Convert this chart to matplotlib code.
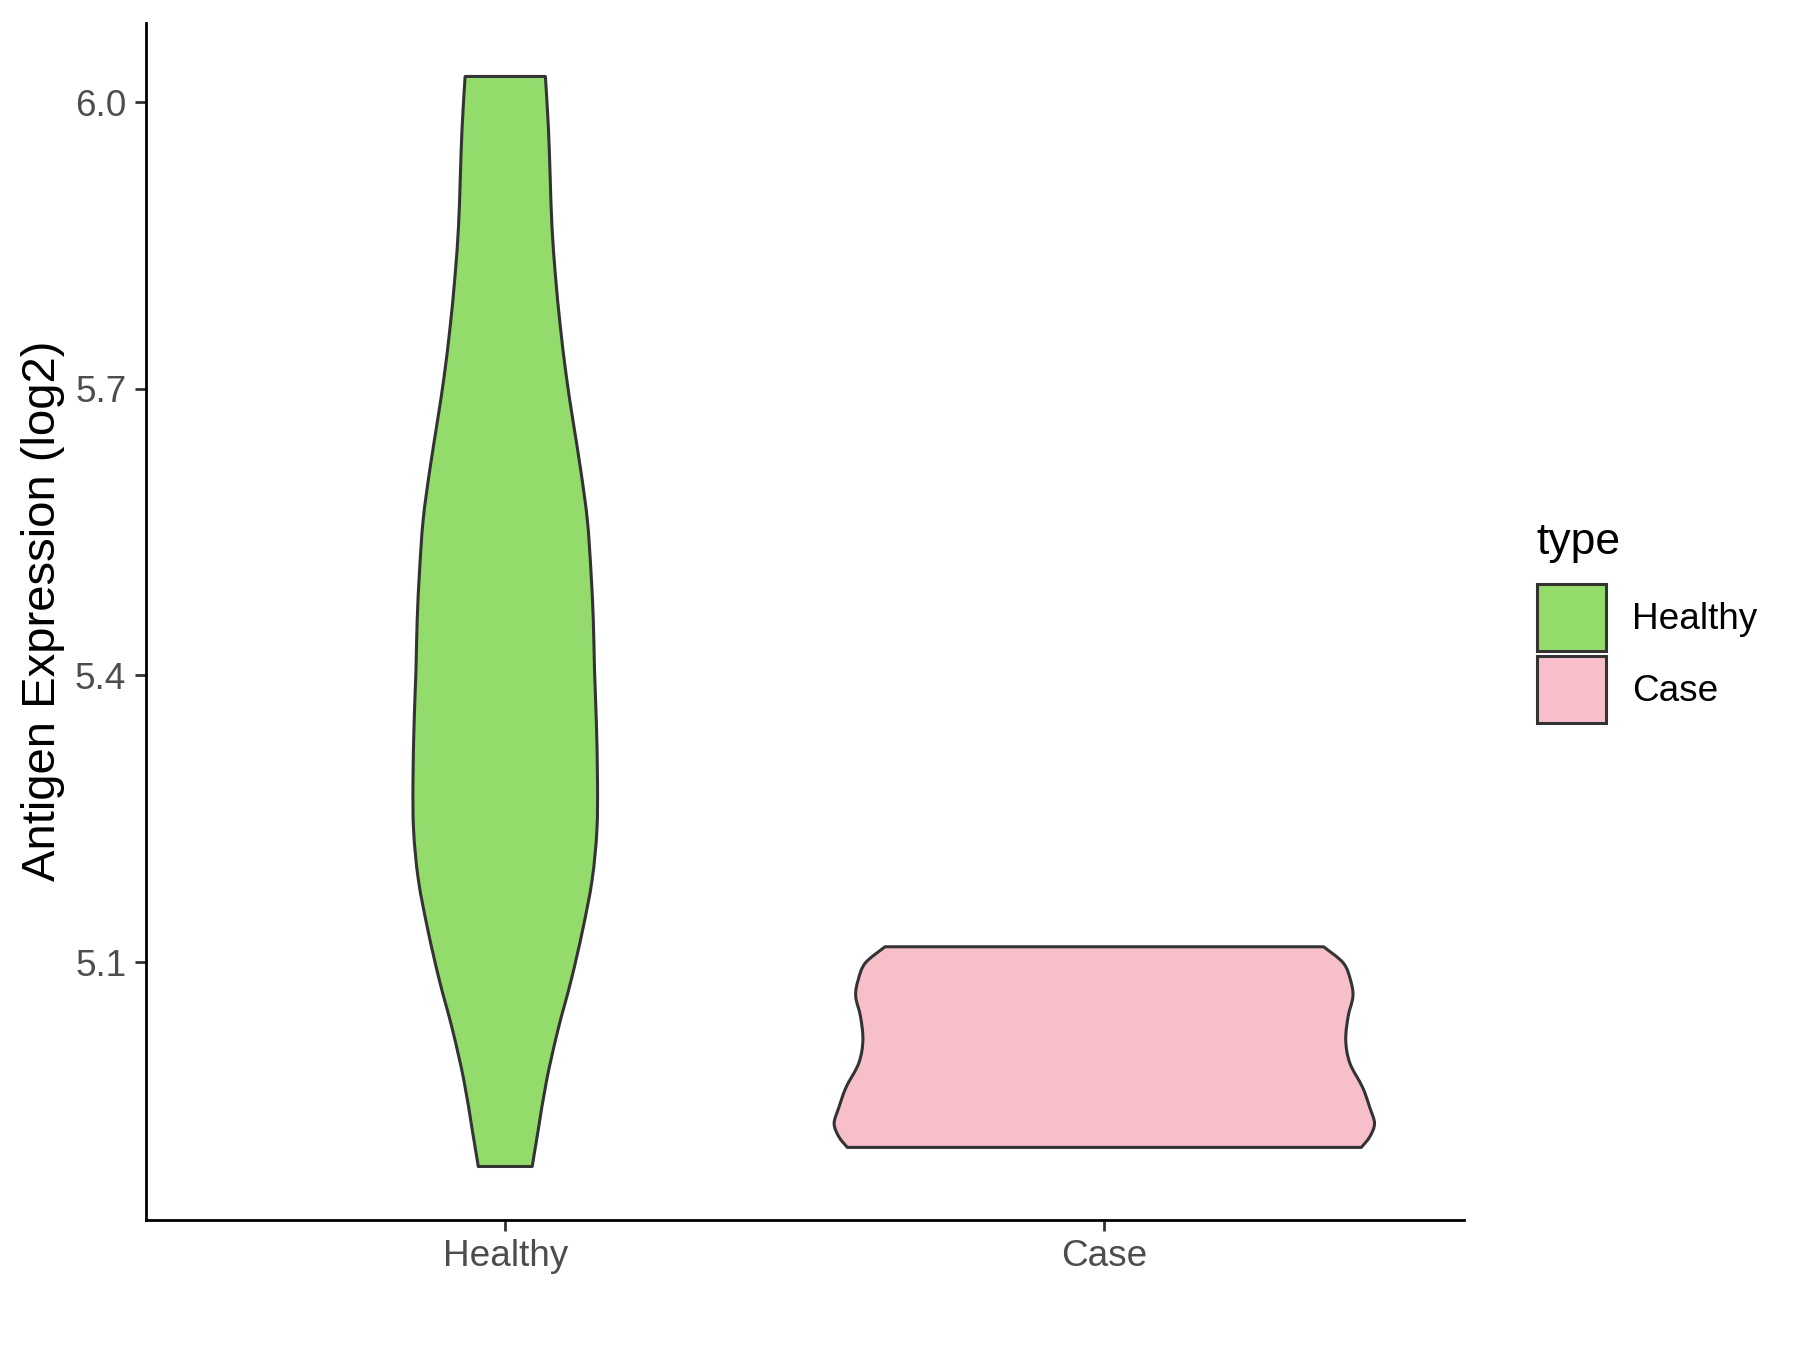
import numpy as np
import matplotlib
matplotlib.use("Agg")
import matplotlib.pyplot as plt
from matplotlib.patches import Patch, PathPatch
from matplotlib.path import Path

plt.rcParams['font.family'] = ['Liberation Sans', 'DejaVu Sans']

# categories and colours
groups = ["Healthy", "Case"]
fills = ["#93DB6A", "#F7BFCA"]

# violin outlines: value (log2) -> half width (x units)
# listed from the bottom of each violin to the top
healthy_y = [4.886, 4.924, 4.976, 5.029, 5.081, 5.133, 5.186, 5.238, 5.290,
             5.353, 5.406, 5.458, 5.510, 5.563, 5.615, 5.667, 5.713, 5.765,
             5.817, 5.870, 5.922, 5.974, 6.027]
healthy_w = [0.045, 0.055, 0.069, 0.088, 0.110, 0.129, 0.145, 0.153, 0.154,
             0.152, 0.149, 0.147, 0.143, 0.137, 0.126, 0.113, 0.102, 0.092,
             0.084, 0.078, 0.075, 0.072, 0.067]

case_y = [4.906, 4.917, 4.931, 4.948, 4.969, 4.994, 5.018, 5.043, 5.064,
          5.081, 5.099, 5.116]
case_w = [0.429, 0.443, 0.451, 0.443, 0.431, 0.410, 0.403, 0.407, 0.415,
          0.411, 0.399, 0.366]

profiles = [(healthy_y, healthy_w), (case_y, case_w)]
yticks = [5.1, 5.4, 5.7, 6.0]


def smooth_side(pts):
    # Catmull-Rom through the read points, as cubic bezier segments
    p = np.vstack([pts[0], pts, pts[-1]])
    verts, codes = [], []
    for i in range(1, len(p) - 2):
        c1 = p[i] + (p[i + 1] - p[i - 1]) / 6.0
        c2 = p[i + 1] - (p[i + 2] - p[i]) / 6.0
        verts += [c1, c2, p[i + 1]]
        codes += [Path.CURVE4] * 3
    return verts, codes


fig = plt.figure(figsize=(9, 6.75), dpi=200)
ax = fig.add_axes([0.081, 0.0963, 0.7322, 0.8867])

for i, (yy, ww) in enumerate(profiles):
    pos = i + 1
    yy = np.array(yy)
    ww = np.array(ww)
    left = np.column_stack([pos - ww, yy])            # bottom -> top
    right = np.column_stack([pos + ww, yy])[::-1]     # top -> bottom
    verts = [left[0]]
    codes = [Path.MOVETO]
    v, c = smooth_side(left)
    verts += v
    codes += c
    verts.append(right[0])
    codes.append(Path.LINETO)
    v, c = smooth_side(right)
    verts += v
    codes += c
    verts.append(left[0])
    codes.append(Path.CLOSEPOLY)
    ax.add_patch(PathPatch(Path(np.array(verts), codes), facecolor=fills[i],
                           edgecolor="#333333", linewidth=1.1,
                           joinstyle="round", zorder=2))

ax.set_xlim(0.4, 2.6)
ax.set_ylim(4.830, 6.083)
ax.set_xticks([1, 2])
ax.set_xticklabels(groups)
ax.set_yticks(yticks)
ax.set_yticklabels([f"{v:.1f}" for v in yticks])
ax.set_ylabel("Antigen Expression (log2)", fontsize=17, color="black")
ax.yaxis.set_label_coords(-0.061, 0.509)

for s in ["top", "right"]:
    ax.spines[s].set_visible(False)
for s in ["left", "bottom"]:
    ax.spines[s].set_linewidth(1.0)
    ax.spines[s].set_color("black")
ax.tick_params(axis="both", length=4, width=1.0, color="#333333",
               labelsize=13.3, labelcolor="#4D4D4D", pad=3)

# legend
fig.text(0.8537, 1 - 554 / 1350, "type", fontsize=16, va="baseline", ha="left")
handles = [Patch(facecolor=fills[i], edgecolor="#333333", linewidth=1.1, label=groups[i])
           for i in range(2)]
fig.legend(handles=handles, loc="upper left", bbox_to_anchor=(0.8537, 1 - 584 / 1350),
           frameon=False, fontsize=13.3, handlelength=1.87, handleheight=2.41,
           handletextpad=0.72, labelspacing=0.135, borderpad=0, borderaxespad=0)

fig.savefig("out.png", dpi=200)
